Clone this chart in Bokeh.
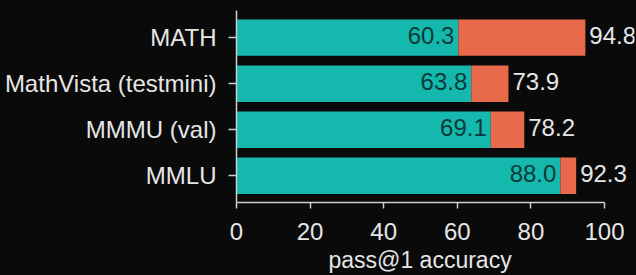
from bokeh.plotting import figure
from bokeh.models import ColumnDataSource, LabelSet, Title, FixedTicker, Range1d
from bokeh.core.properties import value
from bokeh.embed import file_html
from bokeh.resources import INLINE

# Data (top to bottom as shown)
categories = ["MATH", "MathVista (testmini)", "MMMU (val)", "MMLU"]
base_scores = [60.3, 63.8, 69.1, 88.0]
top_scores = [94.8, 73.9, 78.2, 92.3]
x_ticks = [0, 20, 40, 60, 80, 100]
x_label = "pass@1 accuracy"

BG = "#0a0a0a"
TEAL = "#14b8ad"
ORANGE = "#e96a4b"
FG = "#e6e6e6"
DARK = "#0c3a39"
FONT = "Liberation Sans"
FS = "24px"

W, H = 636, 275
LEFT, RIGHT_EDGE, TOP, BOTTOM = 236, 634, 10, 202
px_per_unit = (604 - 236) / 100.0
x_end = (RIGHT_EDGE - LEFT) / px_per_unit

n = len(categories)
ypos = [n - 1 - i for i in range(n)]
y0, y1 = -0.58, n - 1 + 0.59

src = ColumnDataSource(dict(
    y=ypos,
    base=base_scores,
    top=top_scores,
    base_txt=["%.1f" % v for v in base_scores],
    top_txt=["%.1f" % v for v in top_scores],
))

p = figure(width=W, height=H, output_backend="svg", toolbar_location=None,
           x_range=Range1d(0, x_end), y_range=Range1d(y0, y1),
           min_border_left=LEFT, min_border_right=W - RIGHT_EDGE,
           min_border_top=TOP, min_border_bottom=H - BOTTOM)
p.background_fill_color = BG
p.border_fill_color = BG
p.outline_line_color = None
p.xgrid.visible = False
p.ygrid.visible = False

p.hbar(y="y", left=0, right="base", height=0.79, source=src,
       fill_color=TEAL, line_color=None)
p.hbar(y="y", left="base", right="top", height=0.79, source=src,
       fill_color=ORANGE, line_color=None)

inner = LabelSet(x="base", y="y", text="base_txt", source=src,
                 x_offset=-4, y_offset=2, text_align="right",
                 text_baseline="middle", text_color=DARK,
                 text_font=value(FONT), text_font_size=FS)
outer = LabelSet(x="top", y="y", text="top_txt", source=src,
                 x_offset=4, y_offset=2, text_align="left",
                 text_baseline="middle", text_color=FG,
                 text_font=value(FONT), text_font_size=FS)
p.add_layout(inner)
p.add_layout(outer)

# x axis
xa = p.xaxis[0]
xa.ticker = FixedTicker(ticks=x_ticks)
xa.bounds = (x_ticks[0], x_ticks[-1])
xa.axis_line_color = "#cfcfcf"
xa.axis_line_width = 1.5
xa.major_tick_line_color = "#cfcfcf"
xa.major_tick_line_width = 1.5
xa.major_tick_out = 6
xa.major_tick_in = 0
xa.minor_tick_line_color = None
xa.major_label_text_color = FG
xa.major_label_text_font = FONT
xa.major_label_text_font_size = FS
xa.major_label_standoff = 14

# x axis label as a title below, left-aligned so that it sits centred
# under the 0..100 span (text is ~183px wide at 23px)
span_center = px_per_unit * (x_ticks[0] + x_ticks[-1]) / 2.0
xlab = Title(text=x_label, align="left", offset=span_center - 92,
             text_color=FG, text_font=FONT, text_font_size="23px",
             text_font_style="normal", standoff=5, text_line_height=1.0)
p.add_layout(xlab, "below")

# y axis
ya = p.yaxis[0]
ya.ticker = FixedTicker(ticks=ypos)
ya.major_label_overrides = {y: c for y, c in zip(ypos, categories)}
ya.axis_line_color = "#cfcfcf"
ya.axis_line_width = 1.5
ya.major_tick_line_color = "#cfcfcf"
ya.major_tick_line_width = 1.5
ya.major_tick_out = 8
ya.major_tick_in = 0
ya.minor_tick_line_color = None
ya.major_label_text_color = FG
ya.major_label_text_font = FONT
ya.major_label_text_font_size = FS
ya.major_label_standoff = 12

html = file_html(p, INLINE)
html = html.replace("<body>", '<body style="background-color:%s">' % BG)
open("out.html", "w").write(html)
